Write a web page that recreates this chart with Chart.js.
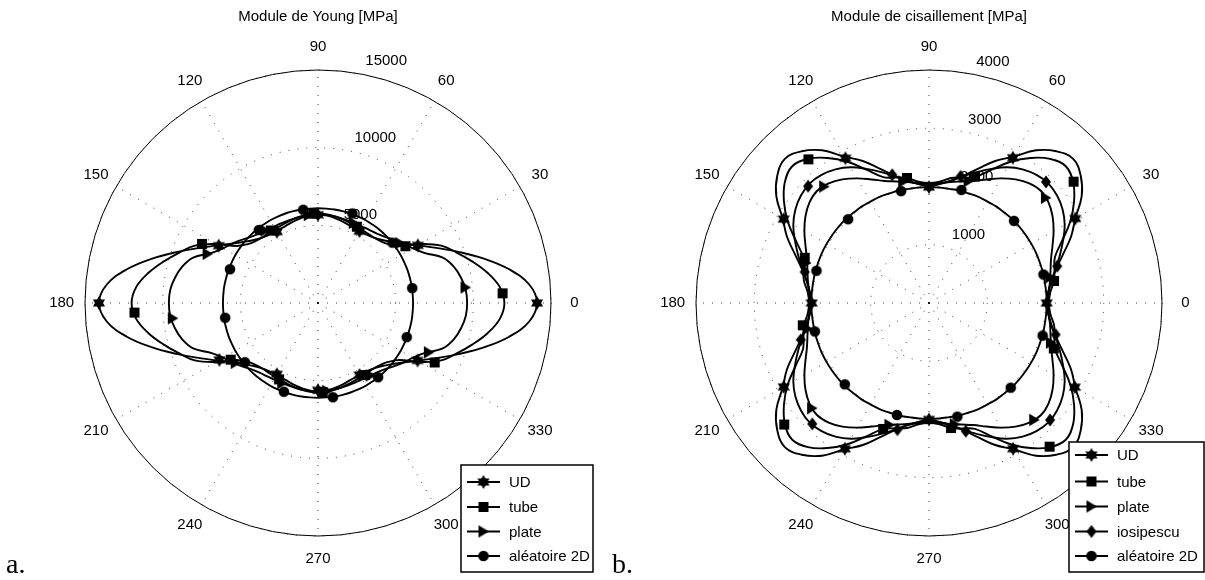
<!DOCTYPE html>
<html>
<head>
<meta charset="utf-8">
<script src="https://cdn.jsdelivr.net/npm/chart.js@4.4.0/dist/chart.umd.min.js"></script>
<style>
    html, body { margin: 0; padding: 0; background: #fff; overflow: hidden; }
    #wrap { position: relative; width: 1205px; height: 580px; }
    canvas { position: absolute; top: 0; }
</style>
</head>
<body>
<div id="wrap">
    <canvas id="young" width="600" height="580" style="left:0"></canvas>
    <canvas id="shear" width="605" height="580" style="left:600px"></canvas>
</div>
<script>
// Angles (deg) of the quadrant tables below; curves are symmetric about both axes
const quadAngles = [0, 5, 10, 15, 20, 25, 30, 35, 40, 45, 50, 55, 60, 65, 70, 75, 80, 85, 90];
const angleLabels = [0, 30, 60, 90, 120, 150, 180, 210, 240, 270, 300, 330];

// --- Module de Young [MPa], curve values at quadAngles ---
const youngUD     = [14100, 13650, 12500, 11050, 9620, 8400, 7420, 6680, 6140, 5760, 5520, 5390, 5340, 5360, 5420, 5510, 5600, 5660, 5680];
const youngTube   = [12000, 11750, 11100, 10300, 9500, 8750, 7600, 6400, 5900, 5650, 5530, 5500, 5500, 5530, 5580, 5640, 5700, 5740, 5760];
const youngPlate  = [9600, 9550, 9350, 9050, 8550, 7600, 7050, 6700, 6350, 6050, 5850, 5750, 5680, 5650, 5650, 5660, 5680, 5700, 5700];
const youngRandom = [6120, 6120, 6130, 6130, 6140, 6140, 6150, 6150, 6160, 6160, 6160, 6150, 6150, 6140, 6130, 6120, 6110, 6100, 6100];
// marker values, every 30 deg starting at the offset
const youngUDMarks     = [14100, 7420, 5340, 5680, 5300, 7380, 14100, 7330, 5300, 5620, 5350, 7400];
const youngTubeMarks   = [11900, 6710, 5510, 5760, 5570, 8380, 11830, 6700, 5520, 5740, 5530, 8430];
const youngPlateMarks  = [9550, 6550, 5650, 5700, 5760, 7780, 9400, 6550, 5650, 5700, 5760, 7810];
const youngRandomMarks = [6140, 6170, 6180, 6080, 6050, 6070, 6050, 6060, 6120, 6140, 6150, 6120];
const youngTicks = [5000, 10000, 15000];

// --- Module de cisaillement [MPa] ---
const shearUD     = [2020, 2050, 2130, 2260, 2450, 2690, 2900, 3200, 3400, 3500, 3400, 3200, 2900, 2690, 2450, 2260, 2130, 2050, 2000];
const shearTube   = [2060, 2090, 2180, 2230, 2300, 2520, 2800, 3040, 3230, 3320, 3230, 3040, 2800, 2520, 2300, 2230, 2180, 2090, 2060];
const shearPlate  = [2040, 2060, 2110, 2160, 2230, 2340, 2470, 2590, 2680, 2720, 2680, 2590, 2470, 2340, 2230, 2160, 2110, 2060, 2040];
const shearIosip  = [2030, 2060, 2130, 2250, 2390, 2540, 2690, 2800, 2870, 2900, 2870, 2800, 2690, 2540, 2390, 2250, 2130, 2060, 2030];
const shearRandom = [2020, 2020, 2020, 2025, 2025, 2030, 2030, 2030, 2030, 2030, 2020, 2020, 2010, 2010, 2000, 2000, 1990, 1990, 1990];
const shearUDMarks     = [2020, 2900, 2880, 1990, 2870, 2880, 2015, 2880, 2890, 2000, 2890, 2890];
const shearTubeMarks   = [2180, 3240, 2310, 2180, 3220, 2270, 2200, 3245, 2300, 2180, 3220, 2280];
const shearPlateMarks  = [2130, 2700, 2200, 2130, 2690, 2220, 2130, 2700, 2200, 2130, 2700, 2200];
const shearIosipMarks  = [2290, 2890, 2240, 2290, 2886, 2200, 2290, 2885, 2240, 2290, 2890, 2240];
const shearRandomMarks = [2025, 2030, 2020, 1980, 2000, 2010, 2020, 2010, 2000, 2010, 2020, 2030];
const shearTicks = [1000, 2000, 3000, 4000];

// one category per degree; index i sits at -i deg (radar runs clockwise)
const degreeLabels = Array.from({ length: 360 }, (_, i) => String((360 - i) % 360));

function fold(theta) {
    const t = theta % 180;
    return t <= 90 ? t : 180 - t;
}

function curveData(quad) {
    const data = new Array(360).fill(null);
    for (let th = 0; th < 360; th += 5) {
        data[(360 - th) % 360] = quad[quadAngles.indexOf(fold(th))];
    }
    return data;
}

function markerData(marks, offset) {
    const data = new Array(360).fill(null);
    marks.forEach((v, k) => { data[(360 - (offset + 30 * k)) % 360] = v; });
    return data;
}

// MATLAB-like filled markers drawn on small canvases
function makeMarker(kind) {
    const c = document.createElement("canvas");
    c.width = 18; c.height = 18;
    const g = c.getContext("2d");
    g.fillStyle = "#000";
    g.translate(9, 9);
    const poly = pts => {
        g.beginPath();
        pts.forEach(([x, y], i) => i ? g.lineTo(x, y) : g.moveTo(x, y));
        g.closePath();
        g.fill();
    };
    if (kind === "hexagram") {
        const tri = a0 => [0, 1, 2].map(k => {
            const a = (a0 + k * 120) * Math.PI / 180;
            return [7 * Math.cos(a), 7 * Math.sin(a)];
        });
        poly(tri(-90));
        poly(tri(90));
    } else if (kind === "square") {
        g.fillRect(-5, -5, 10, 10);
    } else if (kind === "triangle") {
        poly([[5.5, 0], [-5, -6.2], [-5, 6.2]]);
    } else if (kind === "diamond") {
        poly([[0, -6.5], [5, 0], [0, 6.5], [-5, 0]]);
    } else {
        g.beginPath(); g.arc(0, 0, 5.3, 0, 2 * Math.PI); g.fill();
    }
    return c;
}

const markers = {
    UD: makeMarker("hexagram"),
    tube: makeMarker("square"),
    plate: makeMarker("triangle"),
    iosipescu: makeMarker("diamond"),
    random: makeMarker("circle")
};

function buildDatasets(series) {
    const sets = [];
    series.forEach(s => {
        sets.push({
            label: s.name,
            data: curveData(s.curve),
            borderColor: "#000",
            borderWidth: 1.9,
            pointRadius: 0,
            pointHitRadius: 0,
            spanGaps: true,
            fill: false,
            tension: 0.4
        });
        sets.push({
            label: s.name + " marks",
            data: markerData(s.marks, s.offset),
            showLine: false,
            fill: false,
            pointStyle: s.marker,
            pointRadius: 7,
            pointHitRadius: 0
        });
    });
    return sets;
}

// grid labels, title, legend and panel letter drawn around the radial scale
function makeDecor(cfg) {
    const font = '15px "Liberation Sans", Arial, sans-serif';
    return {
        id: "polarDecor",
        beforeDatasetsDraw(chart) {
            const s = chart.scales.r;
            const ctx = chart.ctx;
            ctx.save();
            ctx.setLineDash([]);
            ctx.strokeStyle = "#000";
            ctx.lineWidth = 1;
            ctx.beginPath();
            ctx.arc(s.xCenter, s.yCenter, s.drawingArea, 0, 2 * Math.PI);
            ctx.stroke();

            ctx.fillStyle = "#000";
            ctx.font = font;
            ctx.textAlign = "center";
            ctx.textBaseline = "middle";
            angleLabels.forEach(a => {
                const p = s.getPointPosition((360 - a) % 360, s.drawingArea * 1.1);
                ctx.fillText(String(a), p.x, p.y);
            });
            ctx.fillText(cfg.title, s.xCenter, 17);

            ctx.textAlign = "left";
            ctx.textBaseline = "bottom";
            cfg.ticks.forEach(v => {
                const p = s.getPointPosition(360 - 82, s.getDistanceFromCenterForValue(v + cfg.step / 20));
                ctx.fillText("  " + v, p.x + 6, p.y);
            });
            ctx.restore();
        },
        afterDraw(chart) {
            const ctx = chart.ctx;
            const L = cfg.legend;
            ctx.save();
            ctx.fillStyle = "#fff";
            ctx.fillRect(L.x, L.y, L.w, L.h);
            ctx.strokeStyle = "#000";
            ctx.lineWidth = 1.5;
            ctx.strokeRect(L.x, L.y, L.w, L.h);
            ctx.font = font;
            ctx.textAlign = "left";
            ctx.textBaseline = "middle";
            cfg.series.forEach((s, i) => {
                const y = L.rows[i];
                ctx.strokeStyle = "#000";
                ctx.lineWidth = 2;
                ctx.beginPath();
                ctx.moveTo(L.x + 6, y);
                ctx.lineTo(L.x + 39, y);
                ctx.stroke();
                ctx.drawImage(s.marker, L.x + 22.5 - 9, y - 9);
                ctx.fillStyle = "#000";
                ctx.fillText(s.name, L.x + 48, y + 1);
            });
            ctx.font = '28px "Liberation Serif", "Times New Roman", serif';
            ctx.textBaseline = "alphabetic";
            ctx.fillText(cfg.letter, cfg.letterX, 573);
            ctx.restore();
        }
    };
}

function polarChart(canvasId, cfg) {
    return new Chart(document.getElementById(canvasId), {
        type: "radar",
        data: {
            labels: degreeLabels,
            datasets: buildDatasets(cfg.series)
        },
        options: {
            responsive: false,
            animation: false,
            events: [],
            layout: { padding: cfg.padding },
            plugins: {
                legend: { display: false },
                tooltip: { enabled: false }
            },
            scales: {
                r: {
                    min: 0,
                    max: cfg.max,
                    startAngle: 90,
                    ticks: { display: false, stepSize: cfg.step },
                    pointLabels: { display: false },
                    grid: { circular: true, color: "rgba(0,0,0,0.75)", lineWidth: 1 },
                    border: { dash: [1, 8] },
                    angleLines: {
                        color: "rgba(0,0,0,0.75)",
                        lineWidth: ctx => ctx.index % 30 === 0 ? 1 : 0,
                        borderDash: [1, 8]
                    }
                }
            }
        },
        plugins: [makeDecor(cfg)]
    });
}

polarChart("young", {
    title: "Module de Young [MPa]",
    max: 15000,
    step: 5000,
    ticks: youngTicks,
    padding: { left: 85, top: 70, right: 49, bottom: 44 },
    letter: "a.",
    letterX: 6,
    legend: { x: 461, y: 465, w: 132, h: 107, rows: [482, 507, 531.5, 556] },
    series: [
        { name: "UD", curve: youngUD, marks: youngUDMarks, offset: 0, marker: markers.UD },
        { name: "tube", curve: youngTube, marks: youngTubeMarks, offset: 3, marker: markers.tube },
        { name: "plate", curve: youngPlate, marks: youngPlateMarks, offset: 6, marker: markers.plate },
        { name: "aléatoire 2D", curve: youngRandom, marks: youngRandomMarks, offset: 9, marker: markers.random }
    ]
});

polarChart("shear", {
    title: "Module de cisaillement [MPa]",
    max: 4000,
    step: 1000,
    ticks: shearTicks,
    padding: { left: 96, top: 70, right: 43, bottom: 44 },
    letter: "b.",
    letterX: 12,
    legend: { x: 469, y: 442, w: 135, h: 130, rows: [455, 481.5, 506.5, 531.5, 556] },
    series: [
        { name: "UD", curve: shearUD, marks: shearUDMarks, offset: 0, marker: markers.UD },
        { name: "tube", curve: shearTube, marks: shearTubeMarks, offset: 10, marker: markers.tube },
        { name: "plate", curve: shearPlate, marks: shearPlateMarks, offset: 12, marker: markers.plate },
        { name: "iosipescu", curve: shearIosip, marks: shearIosipMarks, offset: 16, marker: markers.iosipescu },
        { name: "aléatoire 2D", curve: shearRandom, marks: shearRandomMarks, offset: 14, marker: markers.random }
    ]
});
</script>
</body>
</html>
